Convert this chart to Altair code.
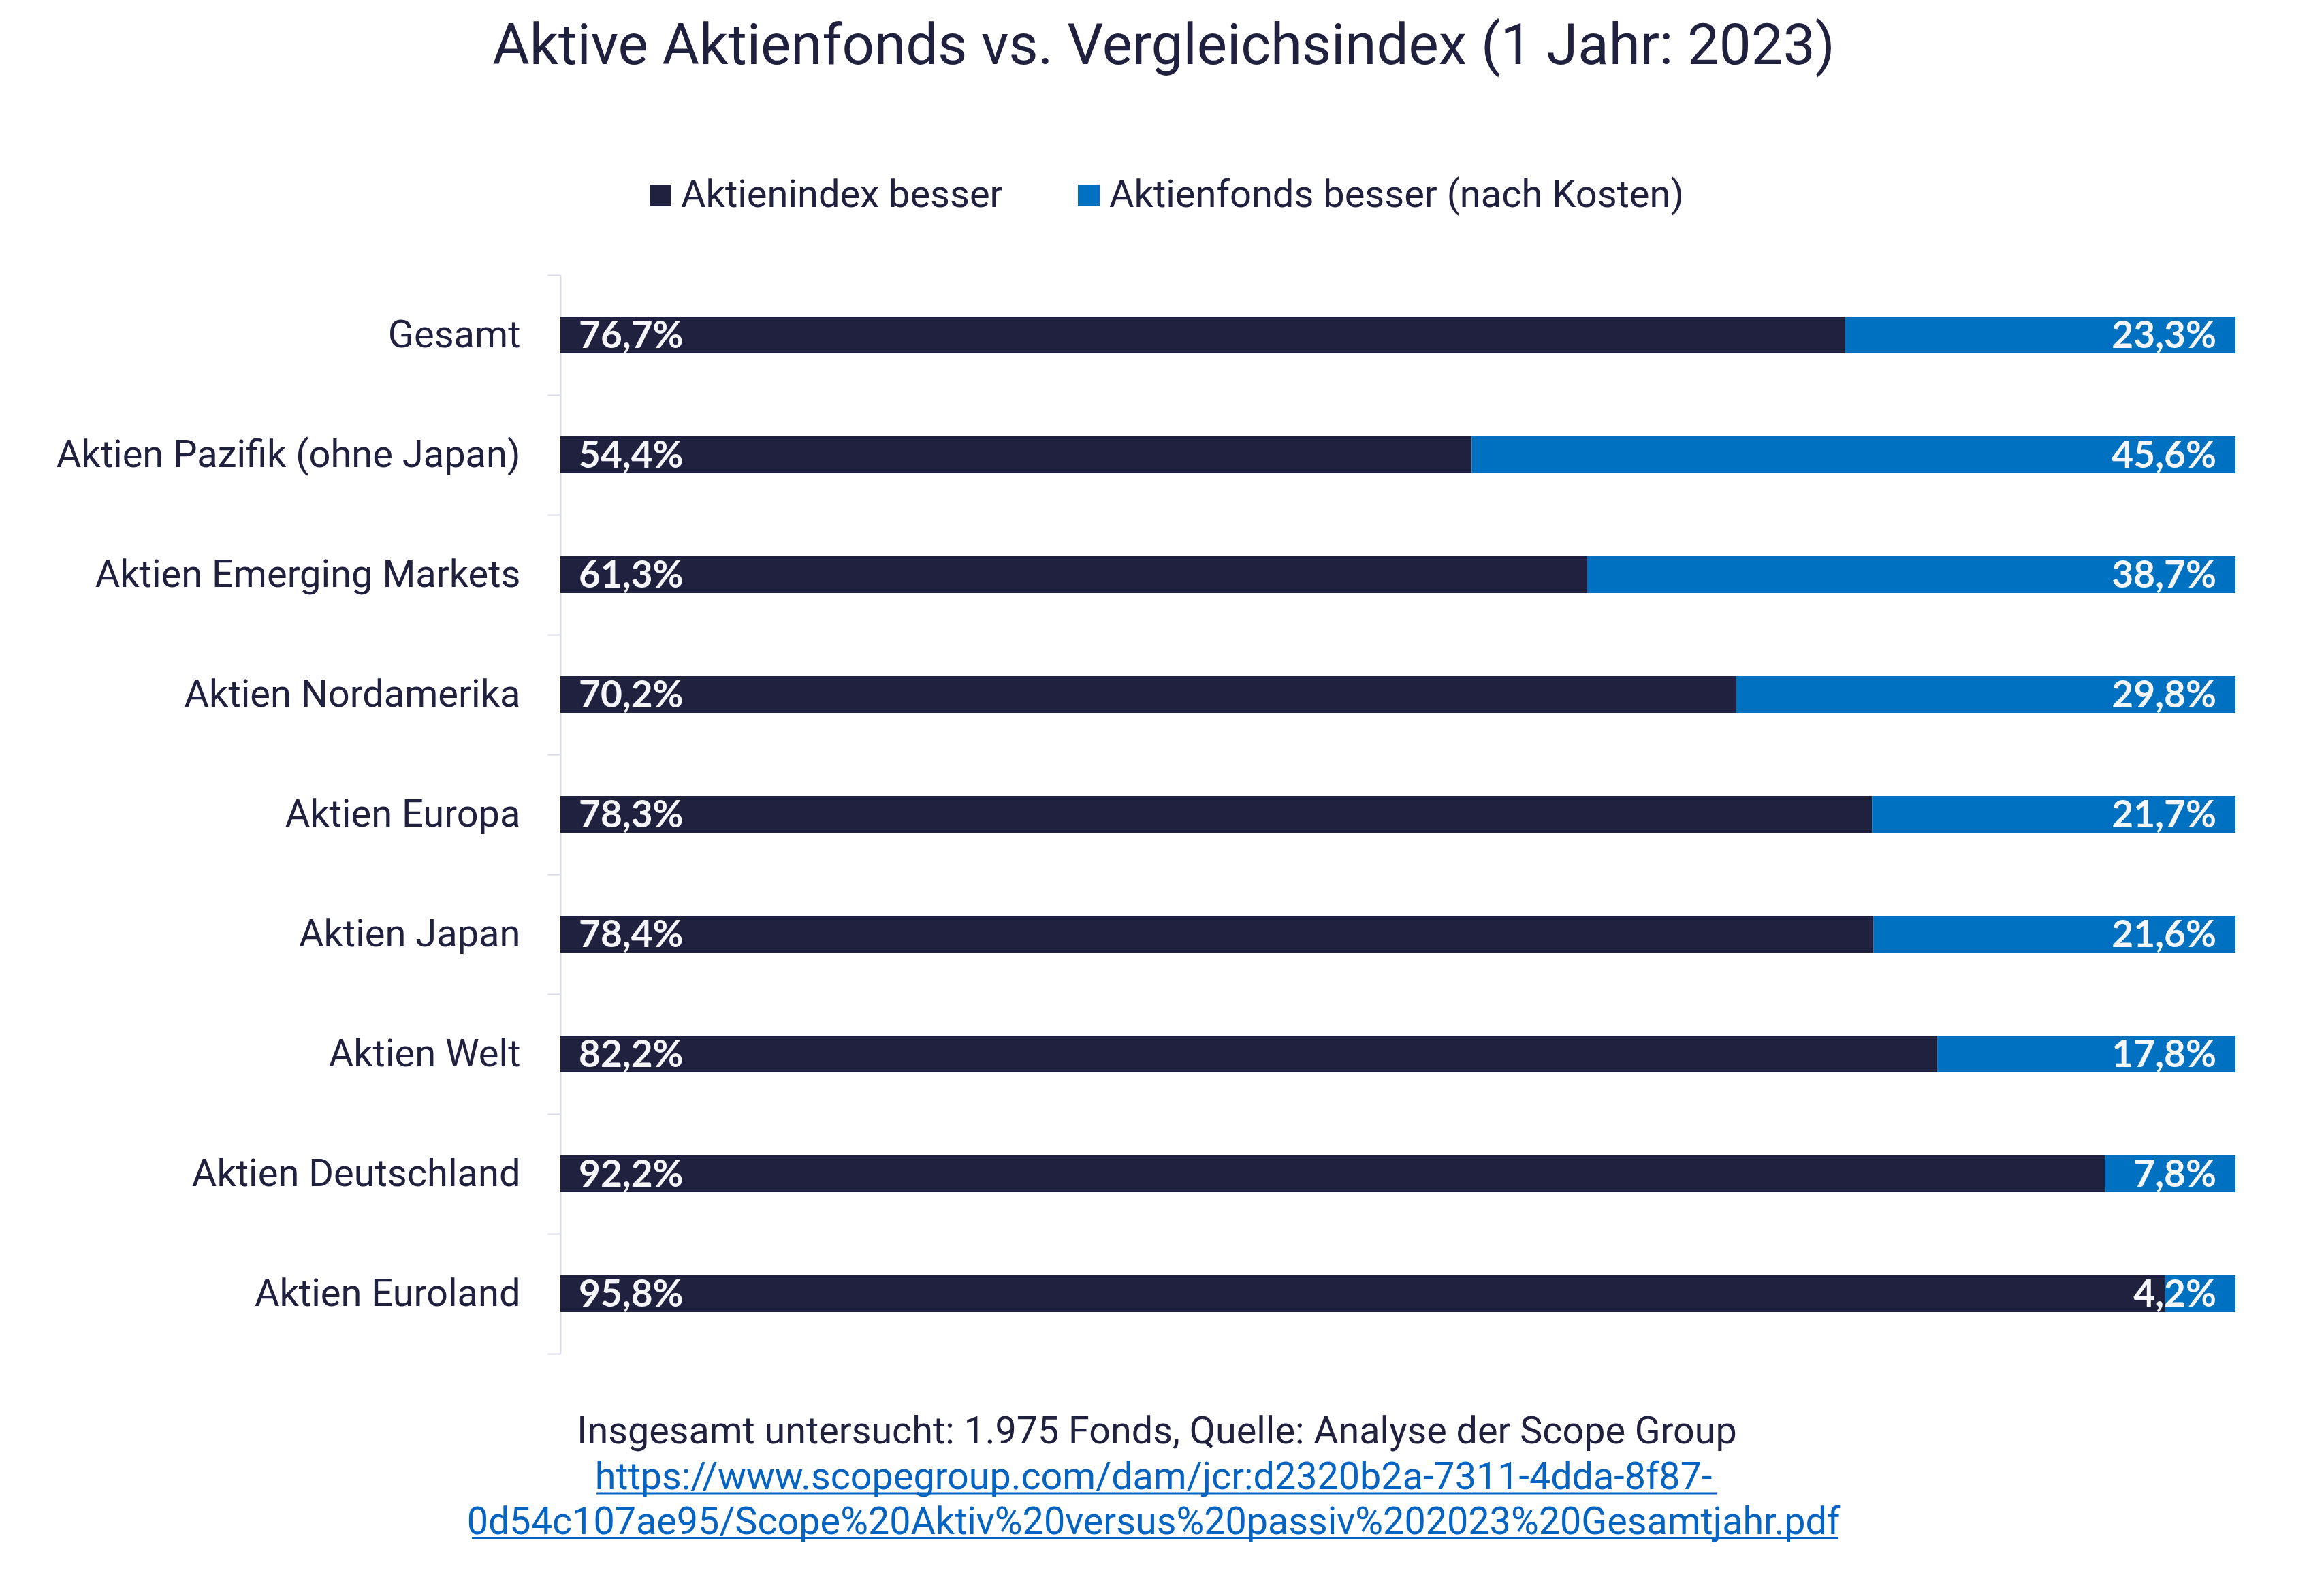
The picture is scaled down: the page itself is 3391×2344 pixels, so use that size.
import altair as alt
import pandas as pd

categories = [
    "Gesamt",
    "Aktien Pazifik (ohne Japan)",
    "Aktien Emerging Markets",
    "Aktien Nordamerika",
    "Aktien Europa",
    "Aktien Japan",
    "Aktien Welt",
    "Aktien Deutschland",
    "Aktien Euroland",
]
index_besser = [76.7, 54.4, 61.3, 70.2, 78.3, 78.4, 82.2, 92.2, 95.8]
fonds_besser = [23.3, 45.6, 38.7, 29.8, 21.7, 21.6, 17.8, 7.8, 4.2]
series_names = ["Aktienindex besser", "Aktienfonds besser (nach Kosten)"]
series_colors = ["#20203F", "#0070C0"]
title_text = "Aktive Aktienfonds vs. Vergleichsindex (1 Jahr: 2023)"
source_line = "Insgesamt untersucht: 1.975 Fonds, Quelle: Analyse der Scope Group"
link_lines = [
    "https://www.scopegroup.com/dam/jcr:d2320b2a-7311-4dda-8f87-",
    "0d54c107ae95/Scope%20Aktiv%20versus%20passiv%202023%20Gesamtjahr.pdf",
]

rows = []
for i, c in enumerate(categories):
    rows.append({"Kategorie": c, "Serie": series_names[0], "Anteil": index_besser[i], "Rang": 0})
    rows.append({"Kategorie": c, "Serie": series_names[1], "Anteil": fonds_besser[i], "Rang": 1})
df = pd.DataFrame(rows)

TEXT = "#20203F"
LINK = "#0563C1"
AXIS = "#D9D9EA"
W, H = 2460, 1584

y_enc = alt.Y(
    "Kategorie:N",
    sort=categories,
    scale=alt.Scale(paddingInner=0, paddingOuter=0),
    axis=alt.Axis(
        title=None,
        domainColor=AXIS,
        domainWidth=2,
        tickColor=AXIS,
        tickWidth=2,
        tickSize=19,
        tickBand="extent",
        labelFont="Roboto",
        labelFontSize=56,
        labelColor=TEXT,
        labelPadding=40,
        labelLimit=0,
        grid=False,
    ),
)
x_scale = alt.Scale(domain=[0, 100], nice=False, zero=True)

bars = alt.Chart(df).mark_bar(size=54).encode(
    y=y_enc,
    x=alt.X("Anteil:Q", stack="zero", scale=x_scale, axis=None),
    color=alt.Color(
        "Serie:N",
        scale=alt.Scale(domain=series_names, range=series_colors),
        legend=alt.Legend(
            orient="none",
            legendX=119,
            legendY=-145,
            direction="horizontal",
            title=None,
            symbolType="square",
            symbolSize=1024,
            symbolStrokeWidth=0,
            labelFont="Roboto",
            labelFontSize=56,
            labelColor=TEXT,
            labelOffset=2,
            columnPadding=98,
            labelLimit=0,
            padding=0,
        ),
    ),
    order=alt.Order("Rang:Q"),
)

label_expr = "replace(format(datum.Anteil, '.1f'), '.', ',') + '%'"
label_style = dict(baseline="middle", font="Lato", fontWeight="bold", fontSize=55, color="#F4F6F9", dy=2)

left_labels = (
    alt.Chart(df)
    .transform_filter(alt.datum.Rang == 0)
    .transform_calculate(Label=label_expr)
    .mark_text(align="left", dx=27, **label_style)
    .encode(y=y_enc, x=alt.XDatum(0, type="quantitative", scale=x_scale, axis=None), text="Label:N")
)
right_labels = (
    alt.Chart(df)
    .transform_filter(alt.datum.Rang == 1)
    .transform_calculate(Label=label_expr)
    .mark_text(align="right", dx=-28, **label_style)
    .encode(y=y_enc, x=alt.XDatum(100, type="quantitative", scale=x_scale, axis=None), text="Label:N")
)

one = alt.Data(values=[{"k": 1}])
src = alt.Chart(one).mark_text(
    text=source_line, font="Roboto", fontSize=55.7, color=TEXT, align="center", baseline="alphabetic"
).encode(x=alt.value(876), y=alt.value(1716))
link = alt.Chart(one).mark_text(
    text=link_lines, font="Roboto", fontSize=55.7, color=LINK, align="center", baseline="alphabetic", lineHeight=66
).encode(x=alt.value(871), y=alt.value(1783))
ul1 = alt.Chart(one).mark_rule(color=LINK, strokeWidth=3).encode(
    x=alt.value(53), x2=alt.value(1699), y=alt.value(1789)
)
ul2 = alt.Chart(one).mark_rule(color=LINK, strokeWidth=3).encode(
    x=alt.value(-130), x2=alt.value(1877), y=alt.value(1855)
)

chart = (
    alt.layer(bars, left_labels, right_labels, src, link, ul1, ul2)
    .resolve_scale(x="shared", y="shared")
    .properties(
        width=W,
        height=H,
        autosize=alt.AutoSizeParams(type="none"),
        padding={"left": 815, "top": 396, "right": 100, "bottom": 340},
        background="white",
        title=alt.TitleParams(
            text=title_text,
            font="Roboto",
            fontSize=83.5,
            fontWeight="normal",
            color=TEXT,
            anchor="middle",
            frame="group",
            dx=-344,
            offset=148,
        ),
    )
    .configure_view(stroke="transparent", strokeWidth=0)
)

chart.save("out.html", embed_options={"renderer": "svg", "actions": False})
